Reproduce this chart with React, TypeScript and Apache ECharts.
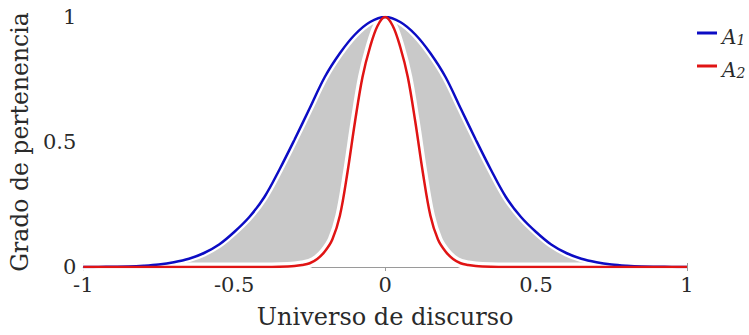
import React, { useEffect, useRef } from "react";
import * as echarts from "echarts";

const blueX = [-1, -0.95, -0.9, -0.85, -0.8, -0.75, -0.7, -0.65, -0.6, -0.55, -0.5, -0.45, -0.4, -0.35, -0.3, -0.25, -0.2, -0.15, -0.1, -0.05, 0, 0.05, 0.1, 0.15, 0.2, 0.25, 0.3, 0.35, 0.4, 0.45, 0.5, 0.55, 0.6, 0.65, 0.7, 0.75, 0.8, 0.85, 0.9, 0.95, 1];
const blueY = [0, 0.0005, 0.001, 0.002, 0.005, 0.01, 0.019, 0.033, 0.056, 0.09, 0.14, 0.2, 0.28, 0.39, 0.51, 0.635, 0.76, 0.855, 0.93, 0.98, 1, 0.98, 0.93, 0.855, 0.76, 0.635, 0.51, 0.39, 0.28, 0.2, 0.14, 0.09, 0.056, 0.033, 0.019, 0.01, 0.005, 0.002, 0.001, 0.0005, 0];

const redX = [-1, -0.5, -0.4, -0.35, -0.3, -0.275, -0.25, -0.225, -0.2, -0.175, -0.15, -0.125, -0.1, -0.075, -0.05, -0.025, 0, 0.025, 0.05, 0.075, 0.1, 0.125, 0.15, 0.175, 0.2, 0.225, 0.25, 0.275, 0.3, 0.35, 0.4, 0.5, 1];
const redY = [0, 0, 0, 0.001, 0.004, 0.008, 0.015, 0.032, 0.062, 0.11, 0.205, 0.377, 0.58, 0.76, 0.88, 0.965, 1, 0.965, 0.88, 0.76, 0.58, 0.377, 0.205, 0.11, 0.062, 0.032, 0.015, 0.008, 0.004, 0.001, 0, 0, 0];

const seriesNames = ["A1", "A2"];

const BLUE = "#0c0cc4";
const RED = "#e01414";
const GRAY = "#c9c9c9";
const FRAME = "#9a9a9a";
const TEXT = "#2a2a2a";
const FONT = "DejaVu Serif";
const SMOOTH = 0.35;

export default function App() {
  const ref = useRef<HTMLDivElement>(null);
  useEffect(() => {
    if (!ref.current) return;
    const chart = echarts.init(ref.current, undefined, { renderer: "svg" });
    const blueData = blueX.map((x, i) => [x, blueY[i]]);
    const redData = redX.map((x, i) => [x, redY[i]]);
    const axisLine = { show: true, lineStyle: { color: FRAME, width: 1 } };
    const tick = { show: true, inside: true, length: 4, lineStyle: { color: FRAME } };
    chart.setOption({
      animation: false,
      backgroundColor: "#fff",
      grid: { left: 81, right: 62, top: 17, bottom: 68 },
      legend: {
        data: seriesNames,
        orient: "vertical",
        left: 692,
        top: 22,
        itemGap: 13,
        icon: "rect",
        itemWidth: 20,
        itemHeight: 3,
        formatter: (n: string) => `{a|A}{s|${n.slice(1)}}`,
        textStyle: {
          rich: {
            a: { fontFamily: FONT, fontStyle: "italic", fontSize: 20, color: TEXT, verticalAlign: "bottom" },
            s: { fontFamily: FONT, fontStyle: "italic", fontSize: 14, color: TEXT, verticalAlign: "bottom", padding: [14, 0, 0, 0] },
          },
        },
      },
      xAxis: [
        {
          type: "value",
          min: -1,
          max: 1,
          interval: 0.5,
          position: "bottom",
          axisLine,
          axisTick: tick,
          splitLine: { show: false },
          axisLabel: { fontFamily: FONT, fontSize: 21, color: TEXT, margin: 7, formatter: (v: number) => String(v) },
          name: "Universo de discurso",
          nameLocation: "middle",
          nameGap: 38,
          nameTextStyle: { fontFamily: FONT, fontSize: 24, color: TEXT },
        },
        {
          type: "value",
          min: -1,
          max: 1,
          interval: 0.5,
          position: "top",
          axisLine,
          axisTick: tick,
          splitLine: { show: false },
          axisLabel: { show: false },
        },
      ],
      yAxis: [
        {
          type: "value",
          min: 0,
          max: 1,
          interval: 0.5,
          position: "left",
          axisLine,
          axisTick: tick,
          splitLine: { show: false },
          axisLabel: { fontFamily: FONT, fontSize: 21, color: TEXT, margin: 7 },
          name: "Grado de pertenencia",
          nameLocation: "middle",
          nameGap: 47,
          nameTextStyle: { fontFamily: FONT, fontSize: 23.5, color: TEXT },
        },
        {
          type: "value",
          min: 0,
          max: 1,
          interval: 0.5,
          position: "right",
          axisLine,
          axisTick: tick,
          splitLine: { show: false },
          axisLabel: { show: false },
        },
      ],
      series: [
        {
          name: "fou",
          type: "line",
          data: blueData,
          smooth: SMOOTH,
          symbol: "none",
          silent: true,
          lineStyle: { color: "#fff", width: 7 },
          areaStyle: { color: GRAY, opacity: 1 },
        },
        {
          name: "fouMask",
          type: "line",
          data: redData,
          smooth: SMOOTH,
          symbol: "none",
          silent: true,
          lineStyle: { color: "#fff", width: 9 },
          areaStyle: { color: "#fff", opacity: 1 },
        },
        {
          name: seriesNames[0],
          type: "line",
          data: blueData,
          smooth: SMOOTH,
          symbol: "none",
          color: BLUE,
          lineStyle: { color: BLUE, width: 2.5 },
        },
        {
          name: seriesNames[1],
          type: "line",
          data: redData,
          smooth: SMOOTH,
          symbol: "none",
          color: RED,
          lineStyle: { color: RED, width: 2.5 },
        },
      ],
    });
    return () => chart.dispose();
  }, []);
  return <div ref={ref} style={{ width: 749, height: 335, position: "absolute", left: 0, top: 0 }} />;
}
